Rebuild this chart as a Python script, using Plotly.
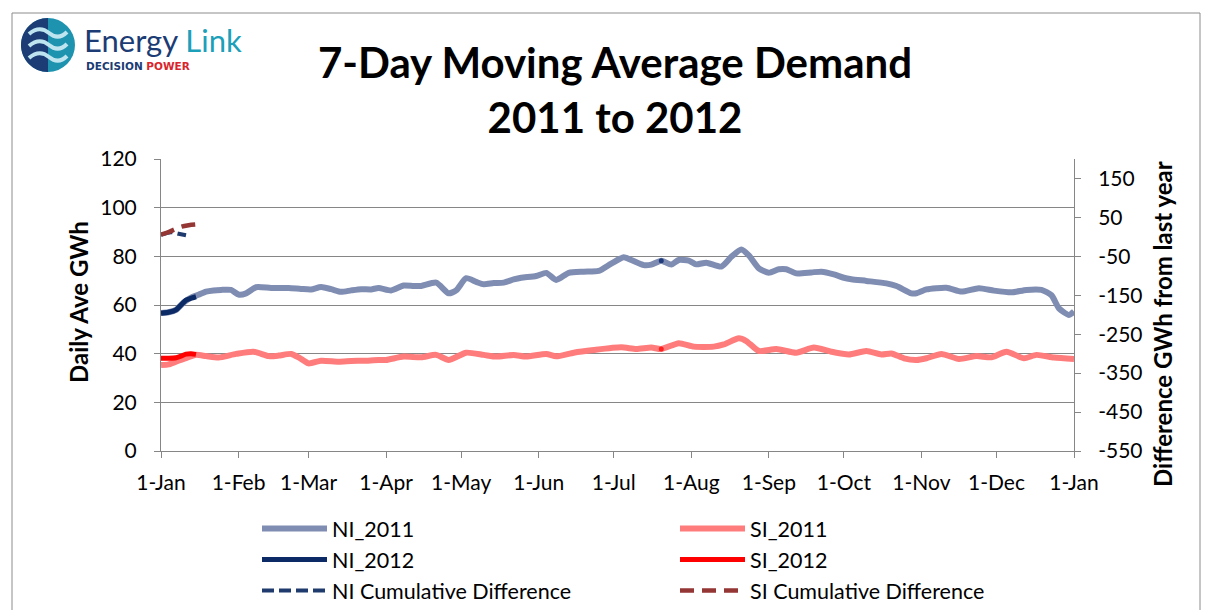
import pandas as pd
import plotly.graph_objects as go

# ---------------- data ----------------
ni2011_days = [0, 3, 6, 9, 12, 15, 18, 21, 24, 28, 31, 34, 38, 44, 51, 56, 60, 64, 68, 72, 76, 80, 84, 87,
               92, 97, 101, 104, 110, 115, 118, 122, 126, 129, 133, 137, 141, 144, 150, 154, 158, 163, 169,
               175, 180, 185, 188, 193, 196, 200, 204, 207, 211, 214, 218, 224, 228, 232, 235, 239, 243, 247,
               250, 254, 260, 264, 269, 273, 276, 282, 290, 294, 300, 302, 306, 314, 320, 327, 333, 340, 346,
               352, 356, 359, 363, 365]
ni2011_vals = [56.7, 57.0, 58.0, 61.0, 63.0, 64.2, 65.5, 66.0, 66.2, 66.2, 64.3, 64.8, 67.3, 67.0, 67.0, 66.6,
               66.4, 67.4, 66.5, 65.4, 66.0, 66.5, 66.4, 67.0, 66.0, 68.0, 67.8, 67.8, 69.2, 64.8, 66.0, 71.0,
               69.5, 68.5, 69.0, 69.2, 70.5, 71.2, 71.9, 73.2, 70.3, 73.2, 73.7, 74.0, 77.0, 79.6, 78.5, 76.4,
               76.6, 78.2, 76.6, 78.5, 78.2, 76.7, 77.4, 75.8, 79.8, 82.8, 80.4, 75.1, 73.3, 74.7, 74.7, 73.0,
               73.4, 73.7, 72.6, 71.2, 70.6, 69.9, 68.9, 67.8, 64.8, 64.8, 66.4, 67.1, 65.5, 66.9, 65.9, 65.2,
               66.2, 66.2, 64.0, 58.6, 55.9, 57.3]

si2011_days = [0, 3, 6, 10, 14, 18, 23, 30, 37, 43, 47, 52, 55, 59, 64, 71, 76, 81, 87, 90, 97, 104, 110, 115,
               122, 129, 134, 141, 146, 154, 158, 165, 173, 184, 190, 196, 200, 207, 213, 221, 225, 231, 234,
               239, 246, 254, 261, 268, 275, 282, 288, 292, 297, 302, 306, 312, 319, 326, 332, 338, 345, 350,
               357, 365]
si2011_vals = [35.3, 35.6, 36.7, 38.2, 39.5, 39.0, 38.4, 39.9, 40.8, 39.0, 39.2, 39.9, 38.5, 36.0, 37.1, 36.7,
               37.0, 37.1, 37.4, 37.4, 38.8, 38.5, 39.5, 37.4, 40.4, 39.5, 38.8, 39.5, 38.8, 39.9, 38.9, 40.4,
               41.5, 42.6, 41.9, 42.5, 41.9, 44.3, 42.9, 42.9, 43.8, 46.3, 45.2, 41.1, 41.9, 40.4, 42.5, 40.8,
               39.7, 41.1, 39.7, 40.1, 38.1, 37.4, 38.1, 39.9, 37.8, 39.0, 38.5, 40.8, 38.1, 39.5, 38.4, 37.8]

ni2012_days = [0, 3, 6, 8, 10, 12, 14]
ni2012_vals = [56.6, 57.0, 58.0, 60.0, 62.0, 62.8, 63.4]
si2012_days = [0, 3, 6, 8, 10, 12, 14]
si2012_vals = [38.1, 38.1, 38.3, 39.0, 39.8, 40.0, 39.7]

# stray single points visible in July
ni_dot_days = [200]
ni_dot_vals = [78.2]
si_dot_days = [200]
si_dot_vals = [41.9]

ni_cum_days = [0, 2, 4, 7, 10]
ni_cum_vals = [5, 9, 12, 8, 4]
si_cum_days = [0, 3, 5, 8, 11, 14]
si_cum_vals = [6, 12, 18, 26, 30, 32]

month_ticks = ["2011-01-01", "2011-02-01", "2011-03-01", "2011-04-01", "2011-05-01", "2011-06-01",
               "2011-07-01", "2011-08-01", "2011-09-01", "2011-10-01", "2011-11-01", "2011-12-01",
               "2012-01-01"]
month_labels = ["1-Jan", "1-Feb", "1-Mar", "1-Apr", "1-May", "1-Jun", "1-Jul", "1-Aug", "1-Sep",
                "1-Oct", "1-Nov", "1-Dec", "1-Jan"]
left_ticks = [0, 20, 40, 60, 80, 100, 120]
right_ticks = [-550, -450, -350, -250, -150, -50, 50, 150]
right_labels = ["-550", "-450", "-350", "-250", "-150", "-50", "50", "150"]

START = pd.Timestamp("2011-01-01")


def to_dates(days):
    return [START + pd.Timedelta(days=d) for d in days]


FONT = "Lato"

# geometry: target positions in screen pixels; the page body adds an 8px offset
OFF = 8
W, H = 1210, 610
L, R, T, B = 161, 1074, 159, 451  # plot area on screen


def fx(px):
    return (px - L) / (R - L)


def fy(py):
    return (B - py) / (B - T)


def cy(py):
    # container fraction for a screen y
    return 1 - (py - OFF) / H


def cx(px):
    return (px - OFF) / W


fig = go.Figure()

fig.add_trace(go.Scatter(x=to_dates(ni2011_days), y=ni2011_vals, name="NI_2011", mode="lines",
                         line=dict(color="#7F8DB2", width=6, shape="spline", smoothing=0.6),
                         legend="legend"))
fig.add_trace(go.Scatter(x=to_dates(si2011_days), y=si2011_vals, name="SI_2011", mode="lines",
                         line=dict(color="#FF7C7C", width=6, shape="spline", smoothing=0.6),
                         legend="legend2"))
fig.add_trace(go.Scatter(x=to_dates(ni2012_days), y=ni2012_vals, name="NI_2012", mode="lines",
                         line=dict(color="#0B2A66", width=5, shape="spline", smoothing=0.6),
                         legend="legend"))
fig.add_trace(go.Scatter(x=to_dates(si2012_days), y=si2012_vals, name="SI_2012", mode="lines",
                         line=dict(color="#FF0000", width=5, shape="spline", smoothing=0.6),
                         legend="legend2"))
fig.add_trace(go.Scatter(x=to_dates(ni_dot_days), y=ni_dot_vals, mode="markers", showlegend=False,
                         marker=dict(color="#1F3A7A", size=5), hoverinfo="skip"))
fig.add_trace(go.Scatter(x=to_dates(si_dot_days), y=si_dot_vals, mode="markers", showlegend=False,
                         marker=dict(color="#FF2020", size=5), hoverinfo="skip"))
fig.add_trace(go.Scatter(x=to_dates(ni_cum_days), y=ni_cum_vals, name="NI Cumulative Difference",
                         mode="lines", yaxis="y2",
                         line=dict(color="#1F3B6E", width=4, dash="12px,5px", shape="spline"),
                         legend="legend"))
fig.add_trace(go.Scatter(x=to_dates(si_cum_days), y=si_cum_vals, name="SI Cumulative Difference",
                         mode="lines", yaxis="y2",
                         line=dict(color="#943634", width=4.5, dash="14px,8px", shape="spline"),
                         legend="legend2"))

axis_col = "#868686"
tick_font = dict(family=FONT, size=21, color="black")

shapes = [
    # chart frame
    dict(type="rect", xref="paper", yref="paper", x0=fx(12), x1=fx(1200), y0=fy(640), y1=fy(13),
         line=dict(color="#8C8C8C", width=1), fillcolor="rgba(0,0,0,0)", layer="below"),
    # logo circle (teal) and navy half
    dict(type="circle", xref="paper", yref="paper", xsizemode="pixel", ysizemode="pixel",
         xanchor=fx(48), yanchor=fy(45), x0=-27, x1=27, y0=-27, y1=27,
         fillcolor="#1E93B0", line=dict(width=0)),
]
r = 27
k = 0.5523 * r
shapes.append(dict(type="path", xref="paper", yref="paper", xsizemode="pixel", ysizemode="pixel",
                   xanchor=fx(48), yanchor=fy(45),
                   path=f"M 0,{r} C {-k},{r} {-r},{k} {-r},0 C {-r},{-k} {-k},{-r} 0,{-r} Z",
                   fillcolor="#1B3C74", line=dict(width=0)))
for dy in (12, 0, -12):
    shapes.append(dict(type="path", xref="paper", yref="paper", xsizemode="pixel", ysizemode="pixel",
                       xanchor=fx(48), yanchor=fy(45),
                       path=(f"M -19,{dy - 1} C -12,{dy + 5} -5,{dy + 5} 1,{dy} "
                             f"C 7,{dy - 5} 13,{dy - 5} 19,{dy + 1}"),
                       line=dict(color="#BEE4EF", width=4)))

annotations = [
    dict(text="<span style='color:#1B3C74'>Energy</span> <span style='color:#1CA0B9'>Link</span>",
         xref="paper", yref="paper", x=fx(82), y=fy(40), xanchor="left", yanchor="middle",
         showarrow=False, font=dict(family=FONT, size=31)),
    dict(text="<b><span style='color:#1B3C74'>DECISION</span> <span style='color:#D9242C'>POWER</span></b>",
         xref="paper", yref="paper", x=fx(84), y=fy(66), xanchor="left", yanchor="middle",
         showarrow=False, font=dict(family="DejaVu Sans", size=10.5)),
    # axis titles
    dict(text="<b>Daily Ave GWh</b>", xref="paper", yref="paper", x=fx(78), y=fy(302),
         xanchor="center", yanchor="middle", textangle=-90, showarrow=False,
         font=dict(family=FONT, size=24, color="black")),
    dict(text="<b>Difference GWh from last year</b>", xref="paper", yref="paper", x=fx(1162),
         y=fy(324), xanchor="center", yanchor="middle", textangle=-90, showarrow=False,
         font=dict(family=FONT, size=24, color="black")),
]

fig.update_layout(
    width=W, height=H,
    margin=dict(l=L - OFF, r=W - (R - OFF), t=T - OFF, b=H - (B - OFF), autoexpand=False),
    paper_bgcolor="white", plot_bgcolor="white",
    font=dict(family=FONT, color="black"),
    title=dict(text="<b>7-Day Moving Average Demand<br>2011 to 2012</b>",
               x=cx(615), xanchor="center", xref="container",
               y=1 - 70 / H, yanchor="top", yref="container",
               font=dict(family=FONT, size=42, color="black")),
    xaxis=dict(type="date", range=["2011-01-01", "2012-01-01"], tickvals=month_ticks,
               ticktext=month_labels, showgrid=False, showline=True, linecolor=axis_col,
               linewidth=1, ticks="outside", ticklen=6, tickcolor=axis_col, tickfont=tick_font,
               ticklabelstandoff=7, zeroline=False),
    yaxis=dict(range=[0, 120], tickvals=left_ticks, showgrid=True, gridcolor=axis_col, gridwidth=1,
               showline=True, linecolor=axis_col, ticks="outside", ticklen=6, tickcolor=axis_col,
               tickfont=tick_font, ticklabelstandoff=13, zeroline=False),
    yaxis2=dict(range=[-550, 200], tickvals=right_ticks, ticktext=right_labels, overlaying="y",
                side="right", showgrid=False,
                showline=True, linecolor=axis_col, ticks="outside", ticklen=6, tickcolor=axis_col,
                tickfont=tick_font, ticklabelstandoff=13, zeroline=False),
    legend=dict(xref="container", yref="container", x=cx(257), y=cy(508), xanchor="left",
                yanchor="top", orientation="v", font=dict(family=FONT, size=21.5), itemwidth=65,
                bgcolor="rgba(0,0,0,0)", tracegroupgap=0),
    legend2=dict(xref="container", yref="container", x=cx(675), y=cy(508), xanchor="left",
                 yanchor="top", orientation="v", font=dict(family=FONT, size=21.5), itemwidth=65,
                 bgcolor="rgba(0,0,0,0)", tracegroupgap=0),
    shapes=shapes,
    annotations=annotations,
)

fig.write_html("out.html")
